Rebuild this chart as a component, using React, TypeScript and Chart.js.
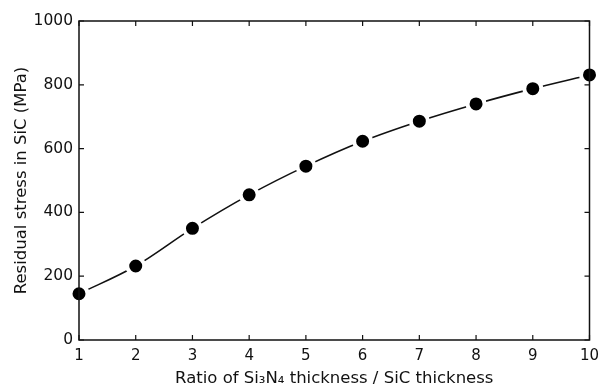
import React, { useEffect, useRef } from "react";
import { Chart, registerables } from "chart.js";

Chart.register(...registerables);

const ratios = [1, 2, 3, 4, 5, 6, 7, 8, 9, 10];
const stress = [145, 232, 350, 455, 545, 623, 686, 740, 788, 831];
const xTicks = [1, 2, 3, 4, 5, 6, 7, 8, 9, 10];
const yTicks = [0, 200, 400, 600, 800, 1000];

const FONT = "'DejaVu Sans', sans-serif";

const framePlugin = {
  id: "frameTicks",
  afterDatasetsDraw(chart: any) {
    const { ctx, chartArea } = chart;
    const xs = chart.scales.x;
    const ys = chart.scales.y;
    const { left, right, top, bottom } = chartArea;
    ctx.save();
    ctx.strokeStyle = "#111";
    ctx.lineWidth = 1.5;
    ctx.beginPath();
    ctx.rect(left, top, right - left, bottom - top);
    ctx.stroke();
    ctx.lineWidth = 1.2;
    const tl = 5;
    ctx.beginPath();
    xTicks.forEach((v) => {
      const px = xs.getPixelForValue(v);
      ctx.moveTo(px, bottom);
      ctx.lineTo(px, bottom - tl);
      ctx.moveTo(px, top);
      ctx.lineTo(px, top + tl);
    });
    yTicks.forEach((v) => {
      const py = ys.getPixelForValue(v);
      ctx.moveTo(left, py);
      ctx.lineTo(left + tl, py);
      ctx.moveTo(right, py);
      ctx.lineTo(right - tl, py);
    });
    ctx.stroke();
    ctx.restore();
  },
};

export default function App() {
  const ref = useRef<HTMLCanvasElement | null>(null);
  useEffect(() => {
    if (!ref.current) return;
    const chart = new Chart(ref.current, {
      type: "line",
      data: {
        datasets: [
          {
            data: ratios.map((r, i) => ({ x: r, y: stress[i] })),
            borderColor: "#111",
            borderWidth: 1.6,
            backgroundColor: "#000",
            pointBackgroundColor: "#000",
            pointBorderColor: "#fff",
            pointBorderWidth: 4,
            pointRadius: 8.5,
            cubicInterpolationMode: "monotone",
            clip: false as any,
          },
        ],
      },
      options: {
        animation: false,
        responsive: true,
        maintainAspectRatio: false,
        layout: { padding: { top: 21, right: 9, left: 0, bottom: 0 } },
        plugins: { legend: { display: false }, tooltip: { enabled: false } },
        scales: {
          x: {
            type: "linear",
            min: 1,
            max: 10,
            afterFit: (s: any) => {
              s.height = 49;
              s.paddingLeft = 0;
              s.paddingRight = 0;
            },
            afterBuildTicks: (s: any) => {
              s.ticks = xTicks.map((v) => ({ value: v }));
            },
            grid: { display: false, drawTicks: false },
            border: { display: false },
            ticks: {
              color: "#111",
              font: { family: FONT, size: 15 },
              padding: 7,
              maxRotation: 0,
              callback: (v: any) => String(v),
            },
            title: {
              display: true,
              text: "Ratio of Si₃N₄ thickness / SiC thickness",
              color: "#111",
              font: { family: FONT, size: 16.5 },
              padding: { top: 0, bottom: 0 },
            },
          },
          y: {
            type: "linear",
            min: 0,
            max: 1000,
            afterFit: (s: any) => {
              s.width = 79;
              s.paddingTop = 0;
              s.paddingBottom = 0;
            },
            afterBuildTicks: (s: any) => {
              s.ticks = yTicks.map((v) => ({ value: v }));
            },
            grid: { display: false, drawTicks: false },
            border: { display: false },
            ticks: {
              color: "#111",
              font: { family: FONT, size: 15.5 },
              padding: 6,
              callback: (v: any) => String(v),
            },
            title: {
              display: true,
              text: "Residual stress in SiC (MPa)",
              color: "#111",
              font: { family: FONT, size: 16.5 },
              padding: { top: 12, bottom: 0 },
            },
          },
        },
      },
      plugins: [framePlugin],
    });
    return () => chart.destroy();
  }, []);
  return (
    <div
      style={{
        position: "fixed",
        left: 0,
        top: 0,
        width: 602,
        height: 389,
        background: "#fff",
      }}
    >
      <canvas ref={ref} />
    </div>
  );
}
